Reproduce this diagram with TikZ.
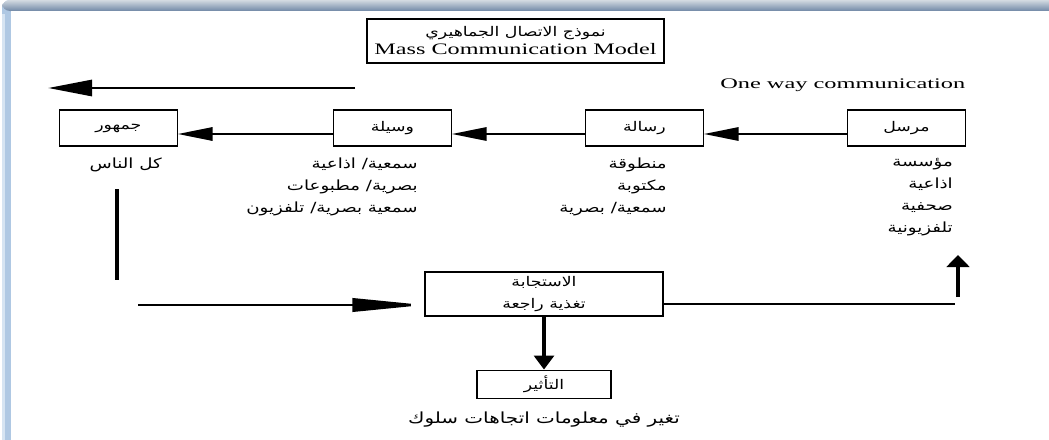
\documentclass[tikz,border=0pt]{standalone}
\usepackage{fontspec}
\usepackage{graphicx}
\setmainfont{Liberation Serif}
\newfontfamily\arabicfont[Script=Arabic, FakeStretch=1.3]{DejaVu Sans}
\TeXXeTstate=1
\newcommand{\artxt}[1]{{\arabicfont\beginR #1\endR}}
\usetikzlibrary{arrows.meta,positioning,calc}

\definecolor{framelight}{HTML}{D6E4F2}
\definecolor{frameblue}{HTML}{AFC8E3}
\definecolor{bartop}{HTML}{D3DAE1}
\definecolor{barbot}{HTML}{7088A6}

\tikzset{
  stage/.style={draw, line width=0.8pt, minimum width=88.5pt, minimum height=27pt, inner sep=0pt,
    font=\fontsize{10}{12}\selectfont},
  notes/.style={align=right, inner sep=0pt, font=\fontsize{10.5}{16.5}\selectfont},
  flow/.style={-{Triangle[length=26pt,width=10pt]}, line width=1.5pt},
}

\begin{document}
\begin{tikzpicture}[x=0.75pt, y=-0.75pt]
    \useasboundingbox (0,0) rectangle (1049,439);
    \begin{scope}
        \clip (0,0) rectangle (1049,439);
        \fill[frameblue, rounded corners=6pt] (2,0) rectangle (40,470);
        \fill[framelight] (2,14) rectangle (4.5,470);
        \shade[top color=bartop, bottom color=barbot, rounded corners=6pt] (2,0) rectangle (1070,11);
        \fill[white] (11,11) rectangle (1070,470);
    \end{scope}

    \node[draw, line width=0.8pt, minimum width=222.75pt, minimum height=33pt, inner sep=0pt, align=center,
        font=\fontsize{10}{13.5}\selectfont] (title) at (515.5,41)
        {\artxt{نموذج الاتصال الجماهيري}\\ \resizebox{211.5pt}{\height}{\fontsize{12}{14}\selectfont Mass Communication Model}};
    \node[anchor=west, inner sep=0pt] (oneway) at (720,85)
        {\resizebox{183.75pt}{\height}{\fontsize{11}{13}\selectfont One way communication}};

    \coordinate (oneR) at (355,88);
    \coordinate (oneL) at (48,88);
    \draw[-{Triangle[length=33pt,width=12pt]}, line width=2.2pt] (oneR) -- (oneL);

    \node[stage] (snd) at (906.5,128) {\artxt{مرسل}};
    \node[stage, left=107.25pt of snd] (msg) {\artxt{رسالة}};
    \node[stage, left=99.75pt of msg] (med) {\artxt{وسيلة}};
    \node[stage, left=116.25pt of med] (aud) {\artxt{جمهور}};

    \draw[flow] ([yshift=-4.5pt]snd.west) -- ([yshift=-4.5pt]msg.east);
    \draw[flow] ([yshift=-4.5pt]msg.west) -- ([yshift=-4.5pt]med.east);
    \draw[flow] ([yshift=-4.5pt]med.west) -- ([yshift=-4.5pt]aud.east);

    \node[notes, anchor=north east] (audtxt) at (162,158) {\artxt{كل الناس}};
    \node[notes, anchor=north east] (medtxt) at (418,158)
        {\artxt{سمعية/ اذاعية}\\ \artxt{بصرية/ مطبوعات}\\ \artxt{سمعية بصرية/ تلفزيون}};
    \node[notes, anchor=north east] (msgtxt) at (667,158)
        {\artxt{منطوقة}\\ \artxt{مكتوبة}\\ \artxt{سمعية/ بصرية}};
    \node[notes, anchor=north east] (sndtxt) at (953,158)
        {\artxt{مؤسسة}\\ \artxt{اذاعية}\\ \artxt{صحفية}\\ \artxt{تلفزيونية}};

    \node[draw, line width=0.8pt, minimum width=178.5pt, minimum height=33pt, inner sep=0pt, align=center,
        font=\fontsize{10}{16}\selectfont] (resp) at (544,294)
        {\artxt{الاستجابة}\\ \artxt{تغذية راجعة}};
    \node[stage, minimum width=100.5pt, minimum height=21pt, below=39.75pt of resp] (eff) {\artxt{التأثير}};
    \node[below=10pt of eff, inner sep=0pt, font=\fontsize{11.5}{13}\selectfont] (efftxt)
        {\artxt{تغير في معلومات اتجاهات سلوك}};

    \coordinate (vtop) at (117,189);
    \coordinate (vbot) at (117,280);
    \draw[line width=2.8pt] (vtop) -- (vbot);

    \coordinate (fbin) at (138,305);
    \draw[-{Triangle[length=54pt,width=10pt]}, line width=1.9pt] (fbin) -- (fbin -| resp.west);

    \coordinate (fbend) at (955,304);
    \draw[line width=1.5pt] (fbend -| resp.east) -- (fbend);

    \coordinate (upbot) at (958,297);
    \coordinate (uptop) at (958,255);
    \draw[-{Triangle[length=9pt,width=17pt]}, line width=2.5pt] (upbot) -- (uptop);

    \draw[-{Triangle[length=10.5pt,width=15pt]}, line width=2.3pt] (resp) -- (eff);

\end{tikzpicture}
\end{document}
